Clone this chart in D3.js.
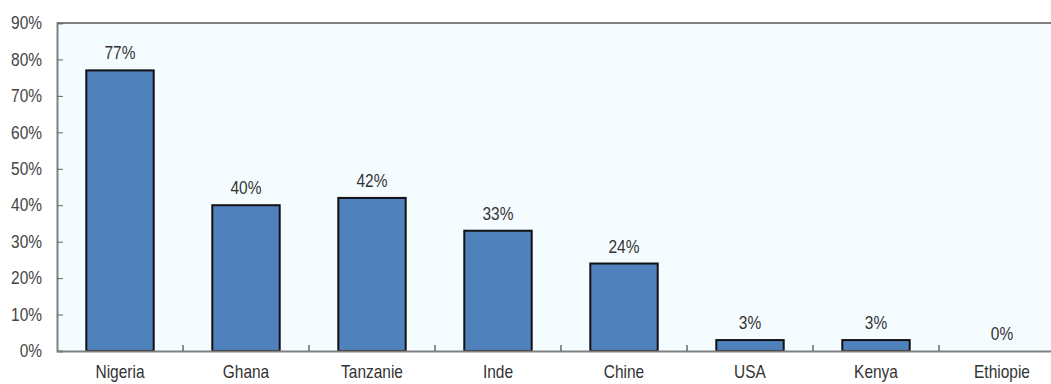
<!DOCTYPE html>
<html><head><meta charset="utf-8">
<script src="https://cdn.jsdelivr.net/npm/d3@7"></script>
<style>
html,body{margin:0;padding:0;background:#fff;overflow:hidden}
svg{display:block}
text{font-family:"Liberation Sans",Arial,sans-serif;fill:#333}
</style></head>
<body>
<svg id="c" width="1051" height="384"></svg>
<script>
const categories = ["Nigeria","Ghana","Tanzanie","Inde","Chine","USA","Kenya","Ethiopie"];
const values = [77,40,42,33,24,3,3,0];
const yTicks = [0,10,20,30,40,50,60,70,80,90];

const svg = d3.select("#c");
const mLeft = 57, mTop = 23, mBottom = 351, band = 126, sx = 0.86;
const x = d3.scaleBand().domain(categories).range([mLeft, mLeft + band*categories.length]).padding(0);
const y = d3.scaleLinear().domain([0,90]).range([mBottom, mTop]);
const barW = x.bandwidth()*0.535;

svg.append("rect").attr("x", mLeft).attr("y", mTop).attr("width", 1051-mLeft).attr("height", mBottom-mTop).attr("fill", "#f5fcff");

// frame
svg.append("line").attr("x1", mLeft).attr("x2", 1051).attr("y1", mTop).attr("y2", mTop).attr("stroke", "#808080").attr("stroke-width", 2);

// bars
svg.selectAll("rect.bar").data(values).enter().append("rect").attr("class","bar")
  .attr("x", (d,i)=> x(categories[i]) + (x.bandwidth()-barW)/2)
  .attr("y", d=> y(d))
  .attr("width", barW)
  .attr("height", d=> y(0)-y(d))
  .attr("fill", "#4f81bd").attr("stroke", "#111").attr("stroke-width", 2)
  .style("display", d=> d===0 ? "none" : null);

// value labels
svg.selectAll("g.val").data(values).enter().append("g").attr("class","val")
  .attr("transform", (d,i)=> `translate(${x(categories[i]) + x.bandwidth()/2},${y(d) - 11}) scale(${sx},1)`)
  .append("text")
  .attr("text-anchor","middle").attr("font-size", 18)
  .text(d=> d + "%");

// y axis
const yAxis = d3.axisLeft(y).tickValues(yTicks).tickFormat(d=> d+"%").tickSize(-6).tickPadding(15);
const gy = svg.append("g").attr("transform", `translate(${mLeft},0)`).call(yAxis);
gy.attr("font-family", null).attr("font-size", null);
gy.select(".domain").attr("stroke", "#808080").attr("stroke-width", 2);
gy.selectAll(".tick line").attr("stroke", "#666");
gy.selectAll(".tick text").attr("font-size", 18).style("fill", "#444")
  .attr("x", -15/sx).attr("transform", `scale(${sx},1)`);

// x axis
const xAxis = d3.axisBottom(x).tickSize(0).tickPadding(14);
const gx = svg.append("g").attr("transform", `translate(0,${mBottom})`).call(xAxis);
gx.attr("font-family", null).attr("font-size", null);
gx.select(".domain").attr("stroke", "#808080").attr("stroke-width", 2);
gx.selectAll(".tick text").attr("font-size", 18).style("fill", "#333").attr("transform", `scale(${sx},1)`);
// category separator ticks
svg.selectAll("line.sep").data(categories.slice(1)).enter().append("line").attr("class","sep")
  .attr("x1", d=> x(d)).attr("x2", d=> x(d)).attr("y1", mBottom).attr("y2", mBottom-6)
  .attr("stroke", "#666").attr("stroke-width", 1.5);
</script>
</body></html>
